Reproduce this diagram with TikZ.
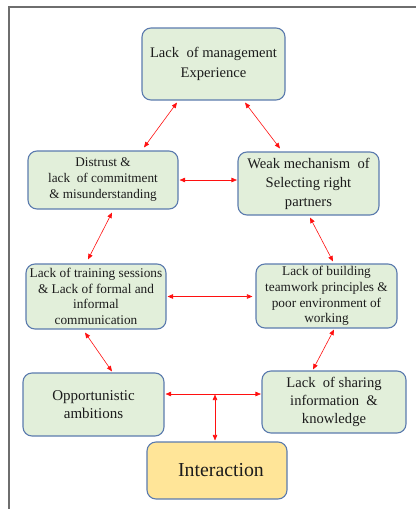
\documentclass[tikz,border=0pt]{standalone}
\usepackage{fontspec}
\setmainfont{Liberation Serif}
\usetikzlibrary{calc,arrows.meta}
\definecolor{boxfill}{HTML}{E2EFDA}
\definecolor{boxline}{HTML}{5B7BAE}
\definecolor{hubfill}{HTML}{FFE598}
\definecolor{linkred}{HTML}{FF1010}
\definecolor{frameline}{HTML}{6E6E6E}
\definecolor{txt}{HTML}{1C1C1C}
\tikzset{
  factor/.style={draw=boxline, line width=1.1pt, fill=boxfill, rounded corners=9pt,
    align=center, text=txt, inner sep=1pt},
  hub/.style={factor, fill=hubfill},
  link/.style={draw=linkred, line width=0.6pt,
    {Triangle[length=5.5pt,width=4.5pt]}-{Triangle[length=5.5pt,width=4.5pt]}},
  frame/.style={draw=frameline, line width=1.2pt}
}
\newcommand{\fs}[2]{\fontsize{#1}{#2}\selectfont}
\begin{document}
\begin{tikzpicture}[x=1pt,y=-1pt]
\useasboundingbox (0,0) rectangle (416,509);
% page frame (top and left edges)
\draw[frame] (9,509) -- (9,7) -- (416,7);

% factor boxes
\node[factor, minimum width=143pt, minimum height=72pt, font=\fs{14.6}{19.5}]
  (top) at (213.5,64) {Lack\ \ of management\\Experience};
\node[factor, minimum width=150pt, minimum height=58pt, font=\fs{13.2}{16}]
  (distrust) at (103,180) {Distrust \&\\lack\ \ of commitment\\\& misunderstanding};
\node[factor, minimum width=141pt, minimum height=63pt, font=\fs{14.6}{19}]
  (weak) at (308.5,183.5) {Weak mechanism\ \ of\\Selecting right\\partners};
\node[factor, minimum width=140pt, minimum height=65pt, font=\fs{13.3}{15.7}]
  (training) at (96,296.5) {Lack of training sessions\\\& Lack of formal and\\informal\\communication};
\node[factor, minimum width=141pt, minimum height=64pt, font=\fs{13.3}{15.8}]
  (building) at (326.5,296) {Lack of building\\teamwork principles \&\\poor environment of\\working};
\node[factor, minimum width=141pt, minimum height=63pt, font=\fs{15}{18.3}]
  (opport) at (93.5,404.5) {Opportunistic\\ambitions};
\node[factor, minimum width=144pt, minimum height=62pt, font=\fs{14.6}{18.3}]
  (sharing) at (334,402) {Lack\ \ of sharing\\information\ \ \&\\knowledge};
\node[hub, minimum width=140pt, minimum height=57pt, font=\fs{19.8}{22}]
  (interaction) at (217,470.5) {\hspace{8pt}Interaction};

% links between factors
\draw[link] ($(top.south)+(-36.5,2)$) -- ($(distrust.north)+(41,-3)$);
\draw[link] ($(top.south)+(31.5,2)$) -- ($(weak.north)+(-28.5,-3)$);
\draw[link] ($(distrust.east)+(1,0)$) -- ($(weak.west|-distrust.east)+(-0.5,0)$);
\draw[link] ($(distrust.south)+(9,3)$) -- ($(training.north)+(-8,-4)$);
\draw[link] ($(weak.south)+(1.5,2)$) -- ($(building.north)+(6.5,-2)$);
\draw[link] ($(training.east)+(1,0)$) -- ($(building.west|-training.east)+(-3,0)$);
\draw[link] ($(training.south)+(-11,3)$) -- ($(opport.north)+(18.5,-1)$);
\draw[link] ($(building.south)+(7.5,1)$) -- ($(sharing.north)+(-21,-1)$);
\draw[link] ($(opport.east)+(1,-10.5)$) coordinate (oe)
  -- ($(sharing.west|-oe)+(-0.5,0)$);
\coordinate (branch) at ($(interaction.north|-oe)+(-2,0.5)$);
\draw[link] (branch) -- ($(interaction.north)+(-2,-1)$);
\end{tikzpicture}
\end{document}
